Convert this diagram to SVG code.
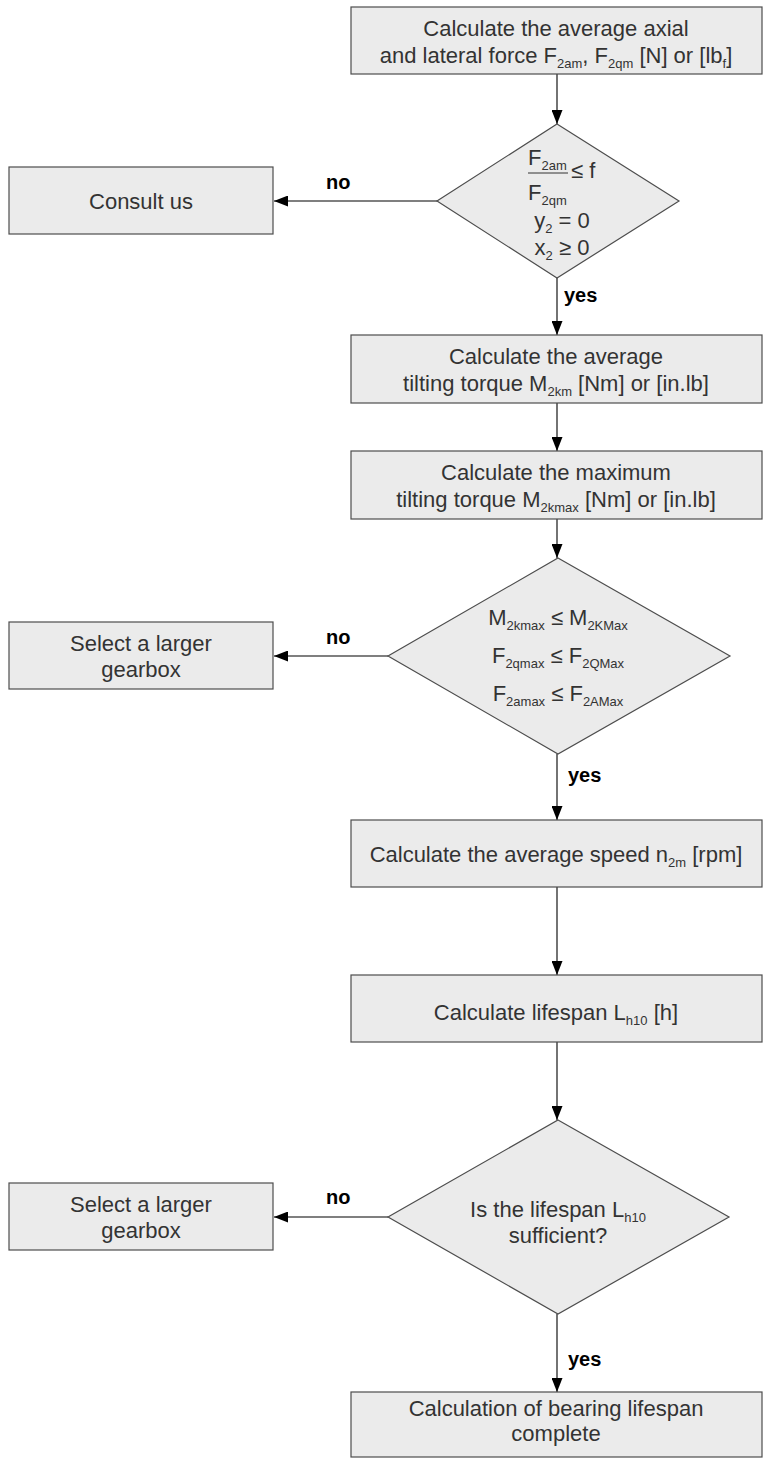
<svg xmlns="http://www.w3.org/2000/svg" width="764" height="1458" viewBox="0 0 764 1458">
<defs>
<marker id="ah" markerUnits="userSpaceOnUse" markerWidth="14" markerHeight="11" refX="14" refY="5.5" orient="auto">
<path d="M0,0 L14,5.5 L0,11 z" fill="#000"/>
</marker>
<style>
.box{fill:#ebebeb;stroke:#4d4d4d;stroke-width:1.2}
.t{font-family:"Liberation Sans",Arial,sans-serif;font-size:22px;fill:#333;text-anchor:middle}
.tl{font-family:"Liberation Sans",Arial,sans-serif;font-size:22px;fill:#333}
.s{font-size:13px}
.lbl{font-family:"Liberation Sans",Arial,sans-serif;font-size:20px;font-weight:bold;fill:#000}
.c{stroke:#000;stroke-width:1.1;fill:none;marker-end:url(#ah)}
</style>
</defs>
<rect width="764" height="1458" fill="#fff"/>

<g id="connectors">
<line class="c" x1="557" y1="74" x2="557" y2="124"/>
<line class="c" x1="437" y1="201" x2="274" y2="201"/>
<line class="c" x1="557" y1="278" x2="557" y2="335"/>
<line class="c" x1="557" y1="403" x2="557" y2="451"/>
<line class="c" x1="557" y1="519" x2="557" y2="558"/>
<line class="c" x1="388" y1="656" x2="274" y2="656"/>
<line class="c" x1="557" y1="754" x2="557" y2="820"/>
<line class="c" x1="557" y1="887" x2="557" y2="975"/>
<line class="c" x1="557" y1="1042" x2="557" y2="1120"/>
<line class="c" x1="388" y1="1217" x2="274" y2="1217"/>
<line class="c" x1="557" y1="1314" x2="557" y2="1392"/>
<text class="lbl" x="326" y="189">no</text>
<text class="lbl" x="564" y="302">yes</text>
<text class="lbl" x="326" y="644">no</text>
<text class="lbl" x="568" y="782">yes</text>
<text class="lbl" x="326" y="1204">no</text>
<text class="lbl" x="568" y="1366">yes</text>
</g>

<g id="n1">
<rect class="box" x="351" y="7" width="411" height="67"/>
<text class="t" x="556" y="36">Calculate the average axial</text>
<text class="t" x="556" y="63">and lateral force F<tspan class="s" dy="5">2am</tspan><tspan dy="-5">, F</tspan><tspan class="s" dy="5">2qm</tspan><tspan dy="-5"> [N] or [lb</tspan><tspan class="s" dy="5">f</tspan><tspan dy="-5">]</tspan></text>
</g>

<g id="d1">
<polygon class="box" points="557,124 679,201 557,278 437,201"/>
<text class="tl" x="528" y="165">F<tspan class="s" dy="5">2am</tspan></text>
<line x1="528" y1="173" x2="568" y2="173" stroke="#333" stroke-width="1"/>
<text class="tl" x="528" y="200">F<tspan class="s" dy="5">2qm</tspan></text>
<text class="tl" x="571" y="178">≤ f</text>
<text class="t" x="562" y="228">y<tspan class="s" dy="5">2</tspan><tspan dy="-5"> = 0</tspan></text>
<text class="t" x="562" y="255">x<tspan class="s" dy="5">2</tspan><tspan dy="-5"> ≥ 0</tspan></text>
</g>

<g id="n_consult">
<rect class="box" x="9" y="167" width="264" height="67"/>
<text class="t" x="141" y="209">Consult us</text>
</g>

<g id="n2">
<rect class="box" x="351" y="335" width="411" height="68"/>
<text class="t" x="556" y="364">Calculate the average</text>
<text class="t" x="556" y="391">tilting torque M<tspan class="s" dy="5">2km</tspan><tspan dy="-5"> [Nm] or [in.lb]</tspan></text>
</g>

<g id="n3">
<rect class="box" x="351" y="451" width="411" height="68"/>
<text class="t" x="556" y="480">Calculate the maximum</text>
<text class="t" x="556" y="507">tilting torque M<tspan class="s" dy="5">2kmax</tspan><tspan dy="-5"> [Nm] or [in.lb]</tspan></text>
</g>

<g id="d2">
<polygon class="box" points="558,558 730,656 558,754 388,656"/>
<text class="t" x="558" y="625">M<tspan class="s" dy="5">2kmax</tspan><tspan dy="-5"> ≤ M</tspan><tspan class="s" dy="5">2KMax</tspan></text>
<text class="t" x="558" y="663">F<tspan class="s" dy="5">2qmax</tspan><tspan dy="-5"> ≤ F</tspan><tspan class="s" dy="5">2QMax</tspan></text>
<text class="t" x="558" y="701">F<tspan class="s" dy="5">2amax</tspan><tspan dy="-5"> ≤ F</tspan><tspan class="s" dy="5">2AMax</tspan></text>
</g>

<g id="n_larger1">
<rect class="box" x="9" y="622" width="264" height="67"/>
<text class="t" x="141" y="651">Select a larger</text>
<text class="t" x="141" y="677">gearbox</text>
</g>

<g id="n4">
<rect class="box" x="351" y="820" width="411" height="67"/>
<text class="t" x="556" y="862">Calculate the average speed n<tspan class="s" dy="5">2m</tspan><tspan dy="-5"> [rpm]</tspan></text>
</g>

<g id="n5">
<rect class="box" x="351" y="975" width="411" height="67"/>
<text class="t" x="556" y="1020">Calculate lifespan L<tspan class="s" dy="5">h10</tspan><tspan dy="-5"> [h]</tspan></text>
</g>

<g id="d3">
<polygon class="box" points="558,1120 729,1217 558,1314 388,1217"/>
<text class="t" x="558" y="1217">Is the lifespan L<tspan class="s" dy="5">h10</tspan></text>
<text class="t" x="558" y="1243">sufficient?</text>
</g>

<g id="n_larger2">
<rect class="box" x="9" y="1183" width="264" height="67"/>
<text class="t" x="141" y="1212">Select a larger</text>
<text class="t" x="141" y="1238">gearbox</text>
</g>

<g id="n6">
<rect class="box" x="351" y="1392" width="411" height="65"/>
<text class="t" x="556" y="1416">Calculation of bearing lifespan</text>
<text class="t" x="556" y="1441">complete</text>
</g>
</svg>
